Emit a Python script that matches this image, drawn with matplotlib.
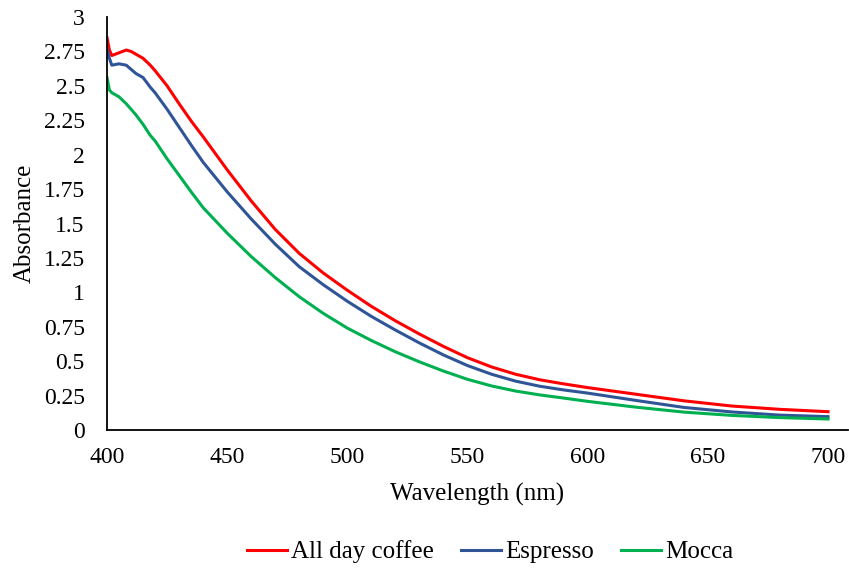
import matplotlib
matplotlib.use("Agg")
import matplotlib.pyplot as plt

wavelength = [400, 401, 402, 405, 408, 410, 412, 415, 418, 420, 425, 430, 435, 440,
              450, 460, 470, 480, 490, 500, 510, 520, 530, 540, 550, 560, 570, 580,
              590, 600, 620, 640, 660, 680, 700]

all_day_coffee = [2.85, 2.76, 2.72, 2.74, 2.76, 2.75, 2.73, 2.70, 2.65, 2.61, 2.50, 2.37,
                  2.245, 2.13, 1.89, 1.664, 1.457, 1.283, 1.14, 1.015, 0.898, 0.793, 0.697,
                  0.607, 0.525, 0.458, 0.405, 0.365, 0.335, 0.308, 0.26, 0.212, 0.174, 0.15, 0.133]

espresso = [2.77, 2.70, 2.65, 2.66, 2.65, 2.62, 2.59, 2.56, 2.49, 2.45, 2.33, 2.20,
            2.07, 1.945, 1.73, 1.533, 1.35, 1.186, 1.055, 0.935, 0.825, 0.726, 0.632,
            0.545, 0.468, 0.405, 0.355, 0.318, 0.291, 0.268, 0.215, 0.164, 0.131, 0.108, 0.097]

mocca = [2.56, 2.47, 2.45, 2.42, 2.37, 2.33, 2.29, 2.22, 2.14, 2.10, 1.97, 1.85,
         1.73, 1.615, 1.43, 1.26, 1.107, 0.968, 0.847, 0.74, 0.65, 0.568, 0.495,
         0.428, 0.368, 0.32, 0.283, 0.255, 0.232, 0.208, 0.166, 0.13, 0.106, 0.09, 0.08]

x_ticks = [400, 450, 500, 550, 600, 650, 700]
y_ticks = [0, 0.25, 0.5, 0.75, 1, 1.25, 1.5, 1.75, 2, 2.25, 2.5, 2.75, 3]
y_tick_labels = ["0", "0.25", "0.5", "0.75", "1", "1.25", "1.5", "1.75", "2",
                 "2.25", "2.5", "2.75", "3"]

plt.rcParams['font.family'] = ['Liberation Serif', 'DejaVu Serif']

fig = plt.figure(figsize=(8.49, 5.70), dpi=100)
ax = fig.add_axes([107/849, 1 - 430/570, (848 - 107)/849, (430 - 17)/570])

ax.plot(wavelength, all_day_coffee, color='#FF0000', lw=2.2, label='All day coffee')
ax.plot(wavelength, espresso, color='#2F5597', lw=2.2, label='Espresso')
ax.plot(wavelength, mocca, color='#00B050', lw=2.2, label='Mocca')

ax.set_xlim(400, 708.3)
ax.set_ylim(0, 3)
ax.set_xticks(x_ticks)
ax.set_yticks(y_ticks)
ax.set_yticklabels(y_tick_labels)
ax.tick_params(axis='both', length=0, labelsize=17)
ax.tick_params(axis='x', pad=12)
ax.tick_params(axis='y', pad=16)

for s in ['top', 'right']:
    ax.spines[s].set_visible(False)
for s in ['left', 'bottom']:
    ax.spines[s].set_color('black')
    ax.spines[s].set_linewidth(1.3)

ax.set_xlabel('Wavelength (nm)', fontsize=18, labelpad=11)
ax.set_ylabel('Absorbance', fontsize=18, labelpad=6)

fig.legend(loc='center', bbox_to_anchor=(490/849, 1 - 552/570), ncol=3, frameon=False,
           fontsize=18, handlelength=1.6, handletextpad=0.15, columnspacing=1.1)

fig.savefig('out.png', dpi=100)
